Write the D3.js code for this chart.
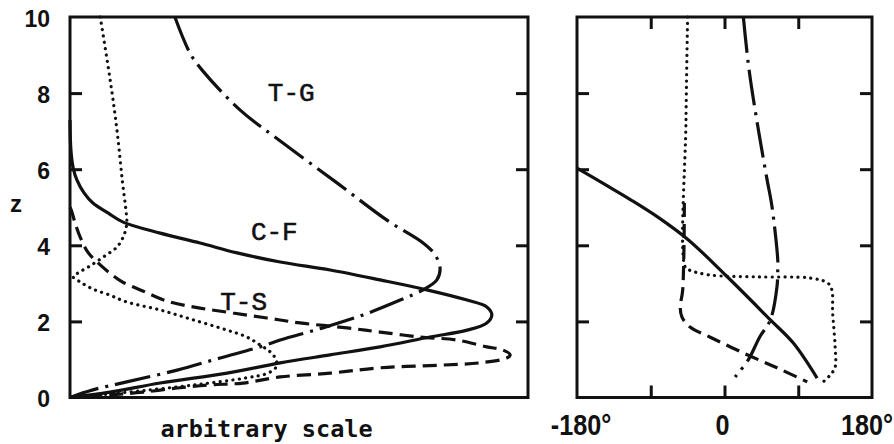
<!DOCTYPE html>
<html>
<head>
<meta charset="UTF-8">
<title>Amplitude and phase profiles</title>
<script src="https://cdnjs.cloudflare.com/ajax/libs/d3/7.9.0/d3.min.js"></script>
<style>
    body { margin: 0; background: #fff; }
    svg { display: block; }
    .num { font-family: "Liberation Sans", Arial, sans-serif; font-weight: bold; fill: #111; }
    .tag { font-family: "Liberation Mono", "Courier New", monospace; fill: #111; stroke: #111; stroke-width: 0.6; }
    .mono { font-family: "DejaVu Sans Mono", monospace; font-weight: bold; fill: #111; }
</style>
</head>
<body>
<div id="chart"></div>
<script>
// height axis, shared by both panels
const zTicks = [0, 2, 4, 6, 8, 10];
const zInner = [2, 4, 6, 8];
const phaseTicks = [-90, 0, 90];
const phaseLabels = [-180, 0, 180];

// left panel: amplitude on an arbitrary 0..1 scale, pairs are [z, amplitude]
const ampCF = [[7.29,0],[6.5,0.002],[6.03,0.007],[5.72,0.015],[5.37,0.031],[5.11,0.05],[4.85,0.083],
    [4.61,0.116],[4.32,0.197],[4.06,0.284],[3.8,0.365],[3.56,0.459],[3.35,0.568],[3.09,0.677],
    [2.83,0.779],[2.56,0.867],[2.38,0.91],[2.17,0.921],[1.96,0.91],[1.77,0.867],[1.59,0.786],
    [1.33,0.677],[1.12,0.568],[0.91,0.459],[0.64,0.343],[0.38,0.197],[0.14,0.087],[0,0]];
const ampTS = [[5.0,0],[4.88,0.004],[4.59,0.011],[4.22,0.022],[3.82,0.039],[3.56,0.059],[3.27,0.087],
    [3.04,0.114],[2.8,0.159],[2.51,0.218],[2.35,0.284],[2.22,0.356],[2.09,0.43],[1.96,0.502],
    [1.83,0.605],[1.72,0.677],[1.59,0.764],[1.51,0.845],[1.33,0.91],[1.25,0.945],[1.12,0.961],
    [1.04,0.954],[0.91,0.895],[0.85,0.808],[0.78,0.677],[0.64,0.568],[0.54,0.459],[0.38,0.378],
    [0.33,0.306],[0.25,0.234],[0.14,0.159],[0.07,0.087],[0,0]];
const ampTG = [[10,0.229],[9.05,0.262],[8.61,0.288],[7.56,0.371],[6.69,0.465],[5.64,0.583],[4.66,0.692],
    [4.06,0.771],[3.75,0.797],[3.4,0.808],[3.09,0.801],[2.83,0.771],[2.56,0.721],[2.17,0.64],
    [1.83,0.552],[1.51,0.459],[1.33,0.415],[1.04,0.328],[0.72,0.234],[0.41,0.124],[0.2,0.05],[0,0]];
const ampDot = [[10,0.066],[8.87,0.081],[7.82,0.094],[6.77,0.105],[5.72,0.114],[4.93,0.122],[4.59,0.124],
    [4.27,0.118],[3.96,0.103],[3.72,0.076],[3.46,0.044],[3.27,0.017],[3.17,0.007],[3.04,0.022],
    [2.85,0.05],[2.69,0.087],[2.51,0.124],[2.3,0.197],[2.04,0.269],[1.77,0.343],[1.59,0.386],
    [1.38,0.415],[1.2,0.437],[0.99,0.45],[0.8,0.45],[0.64,0.432],[0.51,0.382],[0.35,0.284],
    [0.2,0.175],[0.07,0.066],[0,0]];

// right panel: phase in degrees, pairs are [z, phase]
const phCF = [[6.03,-180],[5.6,-146],[5.19,-114],[4.72,-80],[4.14,-44],[3.16,4],[2.04,56],[1.43,84],[0.51,113]];
const phTS = [[5.11,-49],[2.83,-51],[2.38,-54],[2.12,-52],[1.85,-42],[1.59,-18],[1.17,23],[0.78,64],[0.41,101]];
const phTG = [[10,23],[8.61,30],[6.95,42],[5.72,52],[5.01,58],[3.61,65],[3.35,65],[2.9,64],
    [2.04,56],[1.59,43],[0.99,29],[0.54,13]];
const phDot = [[10,-45],[7.29,-47],[3.43,-48],[3.35,-43],[3.22,-18],[3.17,43],[3.14,104],[3.01,126],
    [2.83,131],[2.22,132],[1.33,135],[0.8,135],[0.59,129],[0.33,116]];

// curve tags
const tags = ["T-G", "C-F", "T-S"];
const tagAmp = [0.432, 0.395, 0.328];
const tagZ = [7.79, 4.14, 2.30];

const W = 894, H = 444;
const plotTop = 17, plotBottom = 397.5;
const tickLen = 12;
const frameW = 3;
const lineW = 3.2;

const svg = d3.select("#chart").append("svg")
    .attr("width", W)
    .attr("height", H);
svg.append("rect").attr("width", W).attr("height", H).attr("fill", "#fff");

const yScale = d3.scaleLinear().domain([0, 10]).range([plotBottom, plotTop]);
const xAmp = d3.scaleLinear().domain([0, 1]).range([70, 528]);
const xPh = d3.scaleLinear().domain([-180, 180]).range([577, 872]);

// dash patterns per line style
const dashes = {solid: null, dash: "14,7", dashdot: "36,7,3,7", dot: "0.1,6.3"};

function drawLine(data, xs, style) {
    const line = d3.line()
        .x(d => xs(d[1]))
        .y(d => yScale(d[0]))
        .curve(d3.curveCatmullRom.alpha(0.5));
    svg.append("path")
        .datum(data)
        .attr("d", line)
        .attr("fill", "none")
        .attr("stroke", "#111")
        .attr("stroke-width", lineW)
        .attr("stroke-linecap", style == "dot" ? "round" : "butt")
        .attr("stroke-linejoin", "round")
        .attr("stroke-dasharray", dashes[style]);
}

function ticks(axis, tx, ty, values) {
    const g = svg.append("g")
        .attr("transform", `translate(${tx},${ty})`)
        .call(axis.tickValues(values).tickSize(tickLen).tickFormat(""));
    g.select(".domain").remove();
    g.selectAll("line").attr("stroke", "#111").attr("stroke-width", frameW);
}

// frames
function frame(xs) {
    const r = xs.range();
    svg.append("rect")
        .attr("x", r[0]).attr("y", plotTop)
        .attr("width", r[1] - r[0]).attr("height", plotBottom - plotTop)
        .attr("fill", "none")
        .attr("stroke", "#111")
        .attr("stroke-width", frameW);
}

// curves
drawLine(ampDot, xAmp, "dot");
drawLine(ampTG, xAmp, "dashdot");
drawLine(ampTS, xAmp, "dash");
drawLine(ampCF, xAmp, "solid");

drawLine(phDot, xPh, "dot");
drawLine(phTG, xPh, "dashdot");
drawLine(phTS, xPh, "dash");
drawLine(phCF, xPh, "solid");

frame(xAmp);
frame(xPh);

// inward ticks
ticks(d3.axisRight(yScale), xAmp(0), 0, zInner);
ticks(d3.axisLeft(yScale), xAmp(1), 0, zInner);
ticks(d3.axisRight(yScale), xPh(-180), 0, zInner);
ticks(d3.axisLeft(yScale), xPh(180), 0, zInner);
ticks(d3.axisBottom(xPh), 0, plotTop, phaseTicks);
ticks(d3.axisTop(xPh), 0, plotBottom, phaseTicks);

// z labels
svg.append("g").selectAll("text")
    .data(zTicks)
    .join("text")
    .attr("class", "num")
    .attr("x", 50)
    .attr("y", d => yScale(d) + 9.5)
    .attr("text-anchor", "end")
    .attr("font-size", 23)
    .text(d => d);

svg.append("text")
    .attr("class", "num")
    .attr("x", 16).attr("y", 212)
    .attr("text-anchor", "middle")
    .attr("font-size", 24)
    .text("z");

// phase labels
const phOffset = {"-180": 4, "0": -2, "180": -5};
svg.append("g").selectAll("text")
    .data(phaseLabels)
    .join("text")
    .attr("class", "num")
    .attr("text-anchor", "middle")
    .attr("font-size", 30)
    .attr("transform", d => `translate(${xPh(d) + phOffset[d]},435) scale(0.84,1)`)
    .text(d => d == 0 ? "0" : d + "°");

svg.append("text")
    .attr("class", "mono")
    .attr("x", 266.5).attr("y", 437)
    .attr("text-anchor", "middle")
    .attr("font-size", 23.5)
    .text("arbitrary scale");

// curve tags
svg.append("g").selectAll("text")
    .data(tags)
    .join("text")
    .attr("class", "tag")
    .attr("x", (d, i) => xAmp(tagAmp[i]))
    .attr("y", (d, i) => yScale(tagZ[i]))
    .attr("font-size", 26)
    .text(d => d);
</script>
</body>
</html>
